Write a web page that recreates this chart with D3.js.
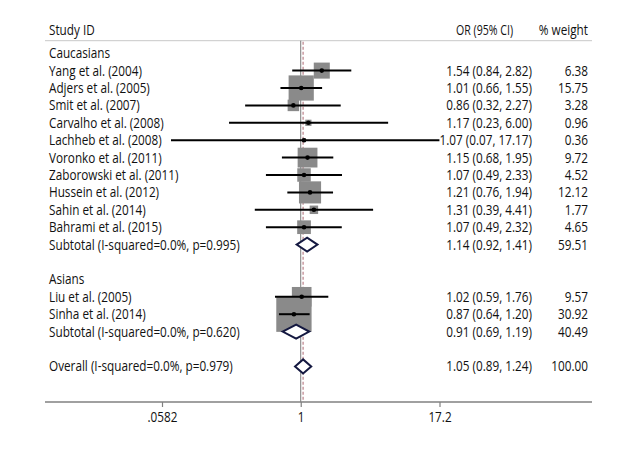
<!DOCTYPE html>
<html>
<head>
<meta charset="utf-8">
<script src="https://cdn.jsdelivr.net/npm/d3@7"></script>
<style>
  html, body { margin: 0; padding: 0; background: #fff; }
  svg { display: block; }
  text { font-family: "Open Sans", "Noto Sans", sans-serif; fill: #111; }
</style>
</head>
<body>
<svg id="chart" width="630" height="450"></svg>
<script>
// ---------------- data ----------------
const rowLabels = [
  "Caucasians",
  "Yang et al. (2004)",
  "Adjers et al. (2005)",
  "Smit et al. (2007)",
  "Carvalho et al. (2008)",
  "Lachheb et al. (2008)",
  "Voronko et al. (2011)",
  "Zaborowski et al. (2011)",
  "Hussein et al. (2012)",
  "Sahin et al. (2014)",
  "Bahrami et al. (2015)",
  "Subtotal (I-squared=0.0%, p=0.995)",
  "",
  "Asians",
  "Liu et al. (2005)",
  "Sinha et al. (2014)",
  "Subtotal (I-squared=0.0%, p=0.620)",
  "",
  "Overall (I-squared=0.0%, p=0.979)"
];
const rowKind = ["group","study","study","study","study","study","study","study","study","study","study","pooled",
                 "blank","group","study","study","pooled","blank","pooled"];
const orValues = [null,1.54,1.01,0.86,1.17,1.07,1.15,1.07,1.21,1.31,1.07,1.14,null,null,1.02,0.87,0.91,null,1.05];
const ciLower  = [null,0.84,0.66,0.32,0.23,0.07,0.68,0.49,0.76,0.39,0.49,0.92,null,null,0.59,0.64,0.69,null,0.89];
const ciUpper  = [null,2.82,1.55,2.27,6.00,17.17,1.95,2.33,1.94,4.41,2.32,1.41,null,null,1.76,1.20,1.19,null,1.24];
const weightValues = [null,6.38,15.75,3.28,0.96,0.36,9.72,4.52,12.12,1.77,4.65,59.51,null,null,9.57,30.92,40.49,null,100.00];
const tickValues = [0.0582, 1, 17.2];
const tickLabels = [".0582", "1", "17.2"];
const overallOR = 1.05;
const headers = ["Study ID", "OR (95% CI)", "% weight"];

// ---------------- layout ----------------
const svg = d3.select("#chart");
const fontSize = 14;
const x = d3.scaleLog().domain([0.0582, 17.2]).range([162, 439.5]);
const y = d3.scaleLinear().domain([0, 1]).range([53.2, 53.2 + 17.4]);
const headerY = 30, ruleY = 40.7, axisY = 402;
const leftX = 49, orRight = 532, orHeaderRight = 513, wRight = 588;
const sq = d3.scaleSqrt().domain([0, 1]).range([0, 6.35]);

const rows = rowLabels.map((label, i) => ({
  i, label, kind: rowKind[i], or: orValues[i], lo: ciLower[i], hi: ciUpper[i], w: weightValues[i]
}));

// header texts
svg.append("text").attr("x", leftX).attr("y", headerY).attr("dy", "0.35em")
  .style("font-size", fontSize + "px").text(headers[0]);
svg.append("text").attr("x", orHeaderRight).attr("y", headerY).attr("dy", "0.35em")
  .attr("text-anchor", "end").attr("data-target", 57)
  .style("font-size", fontSize + "px").text(headers[1]);
svg.append("text").attr("x", wRight).attr("y", headerY).attr("dy", "0.35em")
  .attr("text-anchor", "end").style("font-size", fontSize + "px").text(headers[2]);

// header rule
svg.append("line").attr("x1", 45).attr("x2", 592).attr("y1", ruleY).attr("y2", ruleY)
  .attr("stroke", "#c8c8c8").attr("stroke-width", 1);

// null line at 1
svg.append("line").attr("x1", x(1)).attr("x2", x(1)).attr("y1", ruleY).attr("y2", axisY)
  .attr("stroke", "#7a7a7a").attr("stroke-width", 1);
// overall dashed line
svg.append("line").attr("x1", x(overallOR)).attr("x2", x(overallOR)).attr("y1", ruleY + 1).attr("y2", axisY)
  .attr("stroke", "#c08a92").attr("stroke-width", 1.3).attr("stroke-dasharray", "3,2");

const studies = rows.filter(r => r.kind === "study");

// squares
svg.append("g").selectAll("rect").data(studies).join("rect")
  .attr("x", d => x(d.or) - sq(d.w) / 2)
  .attr("y", d => y(d.i) - sq(d.w) / 2)
  .attr("width", d => sq(d.w))
  .attr("height", d => sq(d.w))
  .attr("fill", "#8a8a8a");

// CI lines (clipped at axis range)
const [xmin, xmax] = x.domain();
svg.append("g").selectAll("line").data(studies).join("line")
  .attr("x1", d => x(Math.max(d.lo, xmin)))
  .attr("x2", d => x(Math.min(d.hi, xmax)))
  .attr("y1", d => y(d.i)).attr("y2", d => y(d.i))
  .attr("stroke", "#000").attr("stroke-width", 2);

// arrows for clipped CI
svg.append("g").selectAll("path").data(studies.filter(d => d.hi > xmax)).join("path")
  .attr("d", d => {
    const ax = x(xmax), ay = y(d.i);
    return `M${ax - 6},${ay - 4.5}L${ax},${ay}L${ax - 6},${ay + 4.5}`;
  })
  .attr("fill", "none").attr("stroke", "#000").attr("stroke-width", 1.6);

// point estimates
svg.append("g").selectAll("circle").data(studies).join("circle")
  .attr("cx", d => x(d.or)).attr("cy", d => y(d.i)).attr("r", 2.3).attr("fill", "#000");

// diamonds
const pooled = rows.filter(r => r.kind === "pooled");
svg.append("g").selectAll("path").data(pooled).join("path")
  .attr("d", d => {
    const cy = y(d.i), h = 7;
    return `M${x(d.lo)},${cy}L${x(d.or)},${cy - h}L${x(d.hi)},${cy}L${x(d.or)},${cy + h}Z`;
  })
  .attr("fill", "#fff").attr("stroke", "#141840").attr("stroke-width", 2).attr("stroke-linejoin", "miter");

// labels
svg.append("g").selectAll("text").data(rows.filter(r => r.label)).join("text")
  .attr("x", leftX).attr("y", d => y(d.i)).attr("dy", "0.35em")
  .style("font-size", fontSize + "px").text(d => d.label);

const valued = rows.filter(r => r.or != null);
svg.append("g").selectAll("text").data(valued).join("text")
  .attr("x", orRight).attr("y", d => y(d.i)).attr("dy", "0.35em").attr("text-anchor", "end")
  .style("font-size", fontSize + "px")
  .text(d => `${d.or.toFixed(2)} (${d.lo.toFixed(2)}, ${d.hi.toFixed(2)})`);
svg.append("g").selectAll("text").data(valued).join("text")
  .attr("x", wRight).attr("y", d => y(d.i)).attr("dy", "0.35em").attr("text-anchor", "end")
  .style("font-size", fontSize + "px")
  .text(d => d.w.toFixed(2));

// x axis
svg.append("line").attr("x1", 45).attr("x2", 592).attr("y1", axisY).attr("y2", axisY)
  .attr("stroke", "#808080").attr("stroke-width", 1.6);
const axis = d3.axisBottom(x).tickValues(tickValues).tickSize(5).tickPadding(5)
  .tickFormat((d, i) => tickLabels[i]);
const ag = svg.append("g").attr("transform", `translate(0,${axisY})`).call(axis);
ag.select(".domain").remove();
ag.selectAll(".tick line").attr("stroke", "#808080").attr("stroke-width", 1.2);
ag.selectAll(".tick text").style("font-size", fontSize + "px")
  .style("font-family", '"Open Sans", "Noto Sans", sans-serif').attr("fill", "#111");

// condense all text to mimic the narrow reference face
const probe = svg.append("text").style("font-size", fontSize + "px").text(rowLabels[11]);
const squeeze = 190.7 / probe.node().getComputedTextLength();
probe.remove();
svg.selectAll("text").each(function() {
  const L = this.getComputedTextLength();
  const target = this.getAttribute("data-target");
  const w = target ? Math.min(+target, L * squeeze) : L * squeeze;
  this.setAttribute("textLength", w.toFixed(2));
  this.setAttribute("lengthAdjust", "spacingAndGlyphs");
});
</script>
</body>
</html>
